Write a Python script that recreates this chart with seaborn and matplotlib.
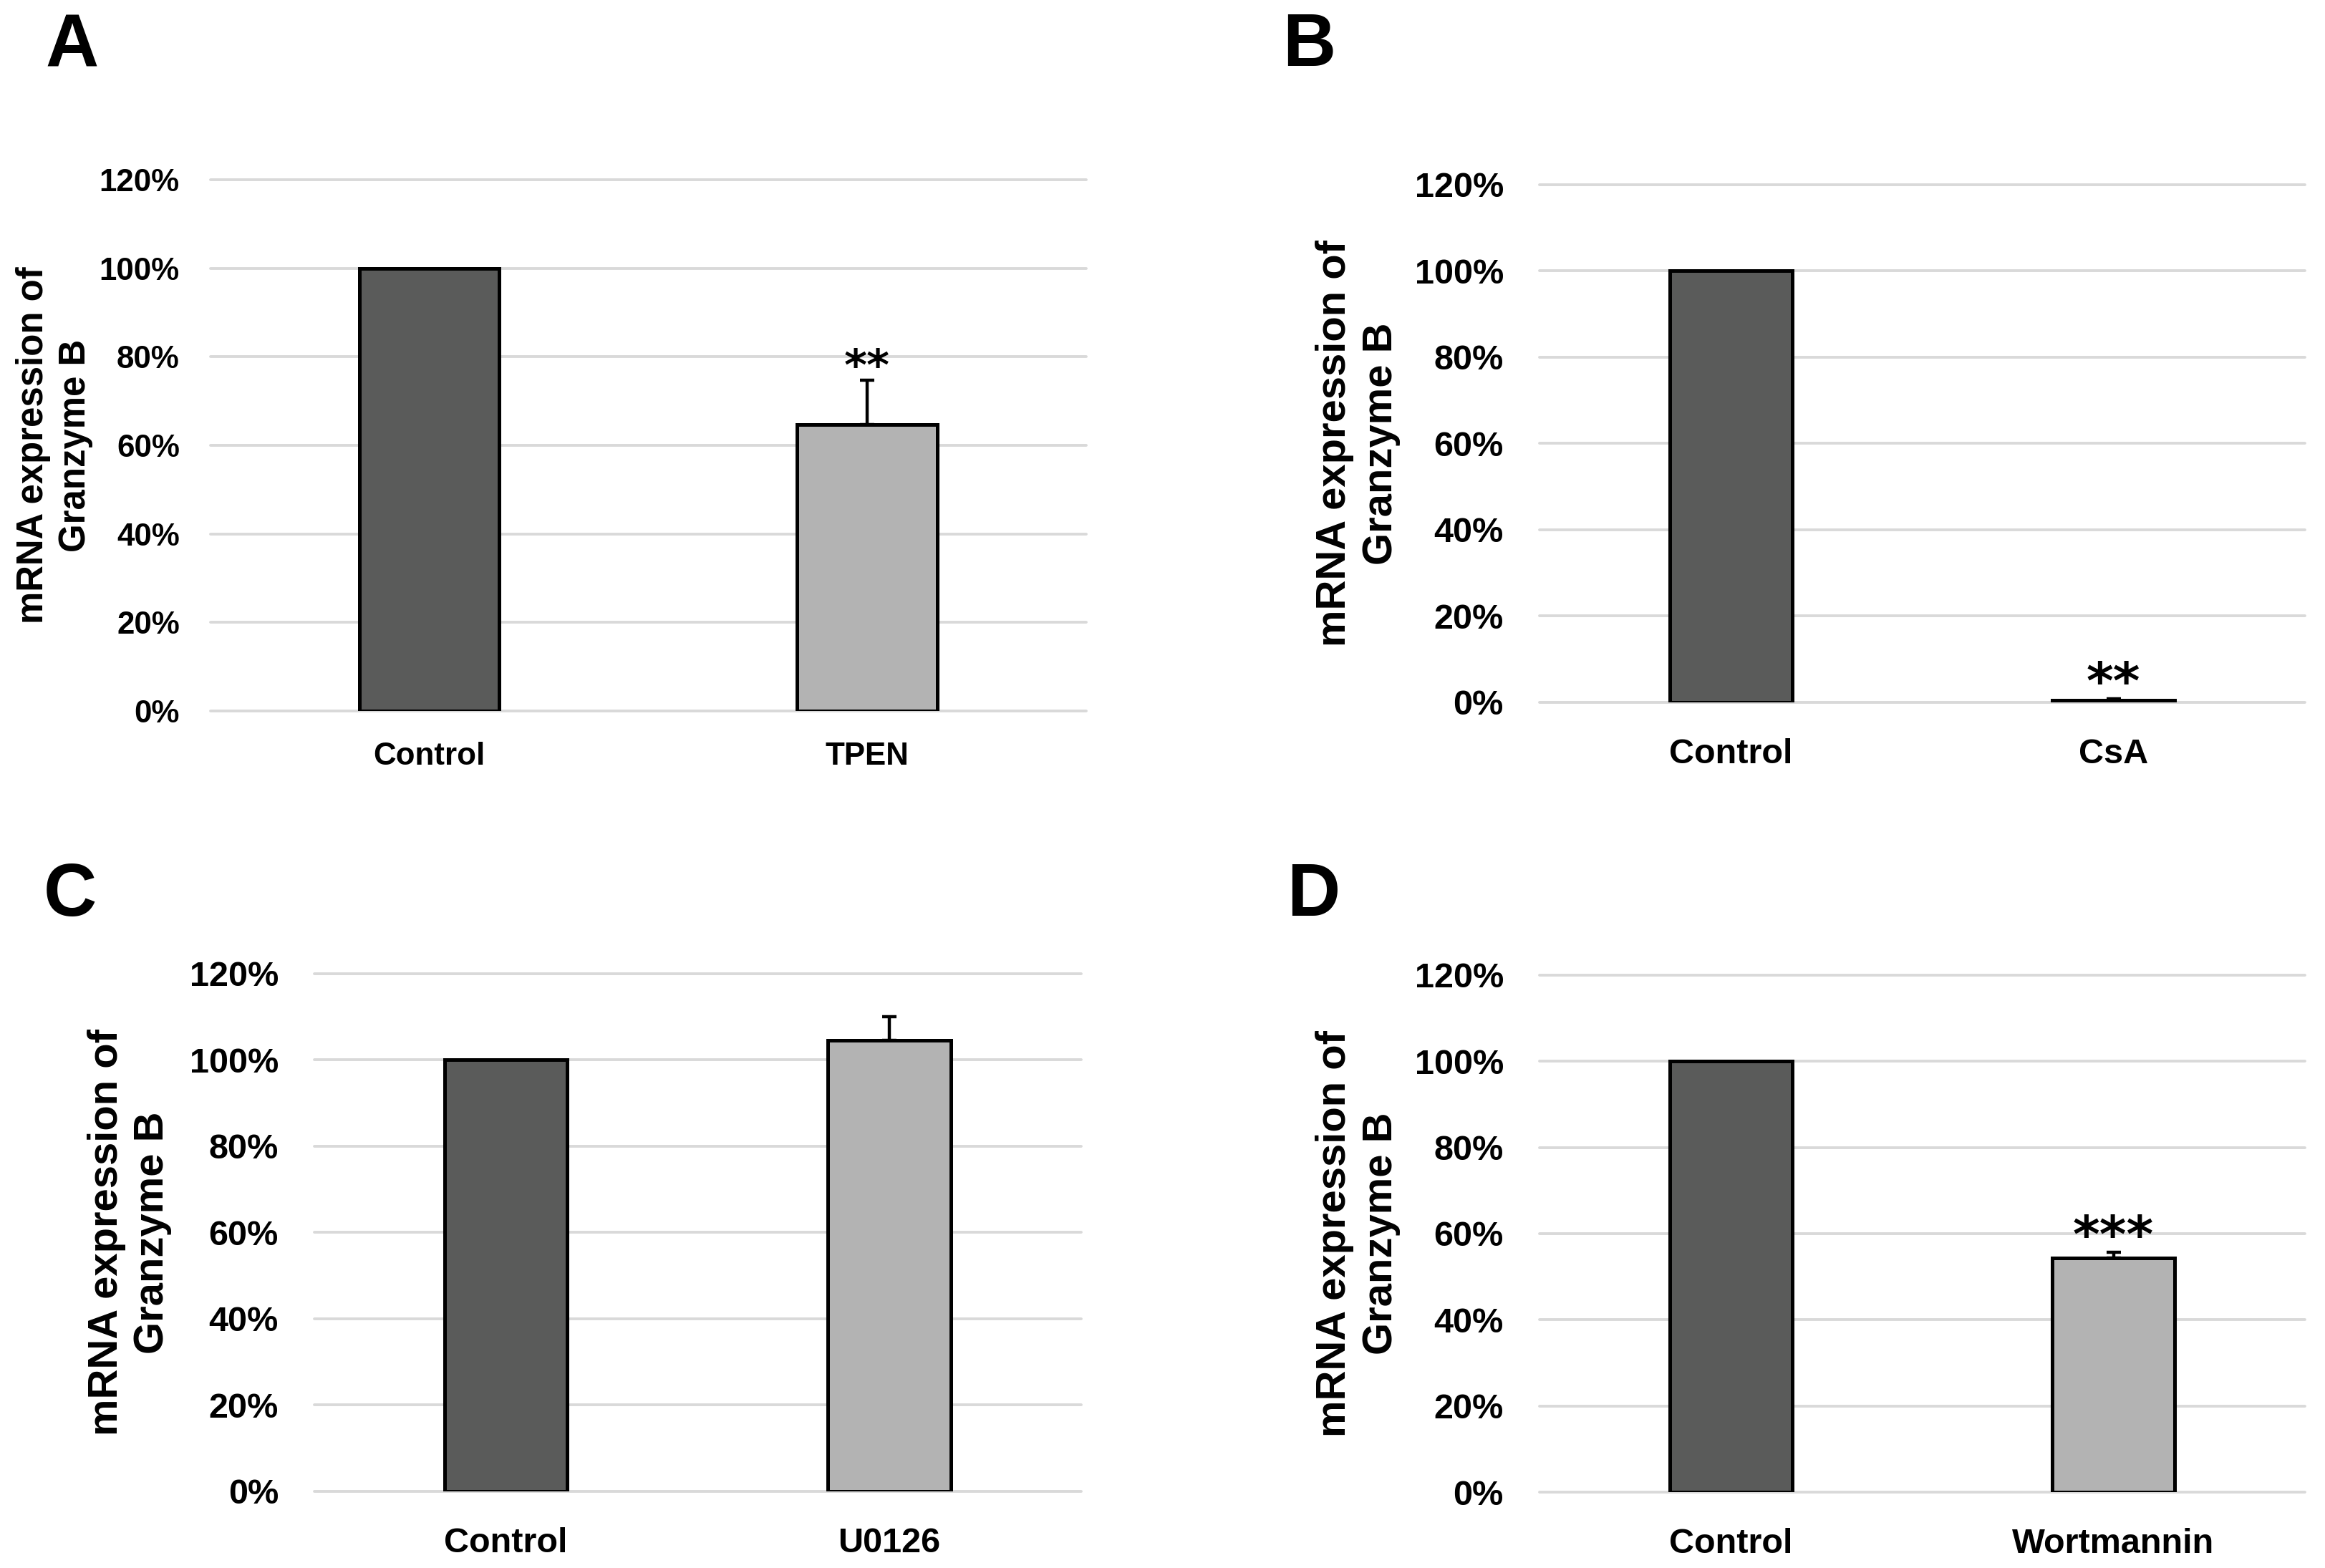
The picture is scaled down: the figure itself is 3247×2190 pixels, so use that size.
import matplotlib
matplotlib.use("Agg")
import matplotlib.pyplot as plt
import seaborn as sns
import pandas as pd
from matplotlib.ticker import PercentFormatter

sns.set_style("white")
plt.rcParams["font.family"] = ["Liberation Sans", "DejaVu Sans"]
plt.rcParams["text.color"] = "black"
plt.rcParams["xtick.color"] = "black"
plt.rcParams["ytick.color"] = "black"

# -----------------------------
# data (mRNA expression, % of control)
# -----------------------------
panel_letters = ["A", "B", "C", "D"]
control_label = "Control"
treatments = ["TPEN", "CsA", "U0126", "Wortmannin"]
control_values = [100, 100, 100, 100]
treated_values = [64.7, 0.5, 104.6, 54.3]
treated_errors = [10.0, 0.3, 5.4, 1.3]
stars = ["**", "**", "", "***"]
y_ticks = [0, 20, 40, 60, 80, 100, 120]

dark = "#5a5b5a"
light = "#b3b3b3"
grid_color = "#d9d9d9"

# layout of each panel: axes rect, tick size, ylabel size, ylabel x, star size, letter pos
layout = [
    dict(rect=[0.0905, 0.5466, 0.3767, 0.3388], tick=15.8, lab=18.3, labx=-0.178,
         star=22, ypad=15.5, xpad=15.5, letter=(0.031, 0.970)),
    dict(rect=[0.6621, 0.5521, 0.3292, 0.3301], tick=17.5, lab=20.9, labx=-0.237,
         star=26, ypad=18, xpad=18, letter=(0.563, 0.970)),
    dict(rect=[0.1352, 0.0489, 0.3298, 0.3301], tick=17.5, lab=20.9, labx=-0.241,
         star=26, ypad=18, xpad=18, letter=(0.030, 0.428)),
    dict(rect=[0.6621, 0.0484, 0.3292, 0.3297], tick=17.5, lab=20.9, labx=-0.237,
         star=26, ypad=18, xpad=18, letter=(0.565, 0.428)),
]

fig = plt.figure(figsize=(16.235, 10.95), dpi=200)

for i in range(4):
    lay = layout[i]
    ax = fig.add_axes(lay["rect"])

    df = pd.DataFrame({
        "group": [control_label, treatments[i]],
        "value": [control_values[i], treated_values[i]],
    })
    sns.barplot(data=df, x="group", y="value", hue="group",
                palette=[dark, light], width=0.32, edgecolor="black",
                linewidth=1.8, errorbar=None, legend=False, ax=ax)

    # upper error bar only
    ax.errorbar([1], [treated_values[i]], yerr=[[0], [treated_errors[i]]],
                fmt="none", ecolor="black", elinewidth=1.6, capsize=3.5,
                capthick=1.6, zorder=5)

    if stars[i]:
        ax.text(1, treated_values[i] + treated_errors[i], stars[i],
                ha="center", va="baseline", fontsize=lay["star"],
                fontweight="bold", family="DejaVu Sans")

    ax.set_xlim(-0.5, 1.5)
    ax.set_ylim(0, 120)
    ax.set_yticks(y_ticks)
    ax.yaxis.set_major_formatter(PercentFormatter(100, decimals=0))
    ax.grid(axis="y", color=grid_color, linewidth=1.4)
    ax.set_axisbelow(True)
    for gl in ax.get_ygridlines():
        gl.set_clip_on(False)
    sns.despine(ax=ax, left=True, bottom=True)
    ax.tick_params(axis="y", length=0, labelsize=lay["tick"], pad=lay["ypad"])
    ax.tick_params(axis="x", length=0, labelsize=lay["tick"], pad=lay["xpad"])
    for lbl in ax.get_xticklabels() + ax.get_yticklabels():
        lbl.set_fontweight("bold")
    ax.set_xlabel("")
    ax.set_ylabel("")

    ax.text(lay["labx"], 0.5, "mRNA expression of\nGranzyme B",
            transform=ax.transAxes, rotation=90, ha="center", va="center",
            multialignment="center", fontsize=lay["lab"], fontweight="bold",
            linespacing=1.25)

    fig.text(lay["letter"][0], lay["letter"][1], panel_letters[i],
             ha="center", va="center", fontsize=37, fontweight="bold")

fig.savefig("out.png", dpi=200)
